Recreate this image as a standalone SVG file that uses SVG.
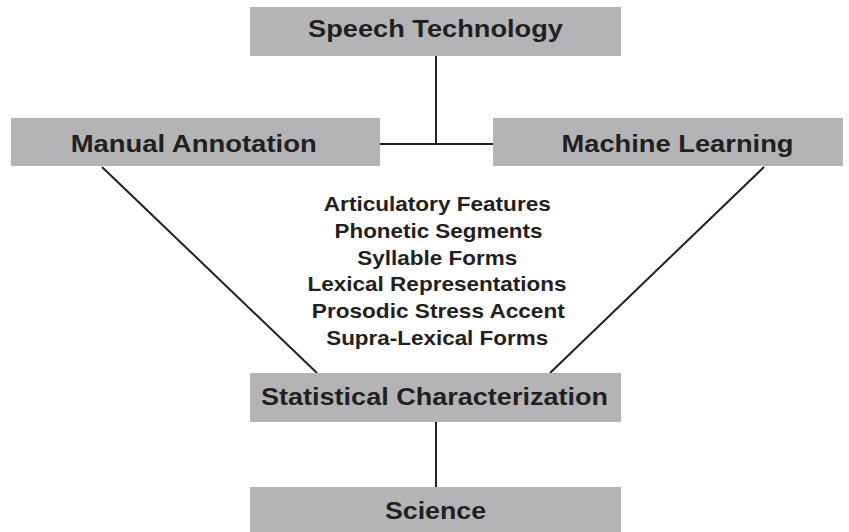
<svg xmlns="http://www.w3.org/2000/svg" width="849" height="532" viewBox="0 0 849 532">
  <style>
    .box { fill: #b4b4b7; }
    .label { font-family: "Liberation Sans", Arial, sans-serif; font-weight: bold; font-size: 23px; fill: #231f20; text-anchor: middle; }
    .topic { font-family: "Liberation Sans", Arial, sans-serif; font-weight: bold; font-size: 20.5px; fill: #231f20; text-anchor: middle; }
    .link { stroke: #231f20; stroke-width: 2; fill: none; }
  </style>
  <rect width="849" height="532" fill="#ffffff"/>

  <!-- connectors -->
  <g id="connectors">
    <line class="link" x1="436" y1="56" x2="436" y2="144"/>
    <line class="link" x1="380" y1="144" x2="493" y2="144"/>
    <line class="link" x1="102" y1="167" x2="317" y2="373"/>
    <line class="link" x1="764" y1="167" x2="550" y2="373"/>
    <line class="link" x1="436" y1="422" x2="436" y2="487"/>
  </g>

  <g id="speech-technology">
    <rect class="box" x="250" y="7" width="371" height="49"/>
    <text class="label" x="435.5" y="37.3" textLength="255" lengthAdjust="spacingAndGlyphs">Speech Technology</text>
  </g>

  <g id="manual-annotation">
    <rect class="box" x="11" y="118" width="369" height="48"/>
    <text class="label" x="193.7" y="152" textLength="246" lengthAdjust="spacingAndGlyphs">Manual Annotation</text>
  </g>

  <g id="machine-learning">
    <rect class="box" x="493" y="118" width="350" height="48"/>
    <text class="label" x="677.5" y="152" textLength="232" lengthAdjust="spacingAndGlyphs">Machine Learning</text>
  </g>

  <g id="levels">
    <text class="topic" x="437.3" y="211" textLength="227" lengthAdjust="spacingAndGlyphs">Articulatory Features</text>
    <text class="topic" x="438.5" y="237.8" textLength="208" lengthAdjust="spacingAndGlyphs">Phonetic Segments</text>
    <text class="topic" x="437.3" y="264.6" textLength="160" lengthAdjust="spacingAndGlyphs">Syllable Forms</text>
    <text class="topic" x="437" y="291.4" textLength="259" lengthAdjust="spacingAndGlyphs">Lexical Representations</text>
    <text class="topic" x="438.3" y="318.2" textLength="253" lengthAdjust="spacingAndGlyphs">Prosodic Stress Accent</text>
    <text class="topic" x="437.2" y="345" textLength="222" lengthAdjust="spacingAndGlyphs">Supra-Lexical Forms</text>
  </g>

  <g id="statistical-characterization">
    <rect class="box" x="250" y="373" width="371" height="49"/>
    <text class="label" x="434.5" y="405" textLength="347" lengthAdjust="spacingAndGlyphs">Statistical Characterization</text>
  </g>

  <g id="science">
    <rect class="box" x="250" y="487" width="371" height="45"/>
    <text class="label" x="435.5" y="519" textLength="101" lengthAdjust="spacingAndGlyphs">Science</text>
  </g>
</svg>
